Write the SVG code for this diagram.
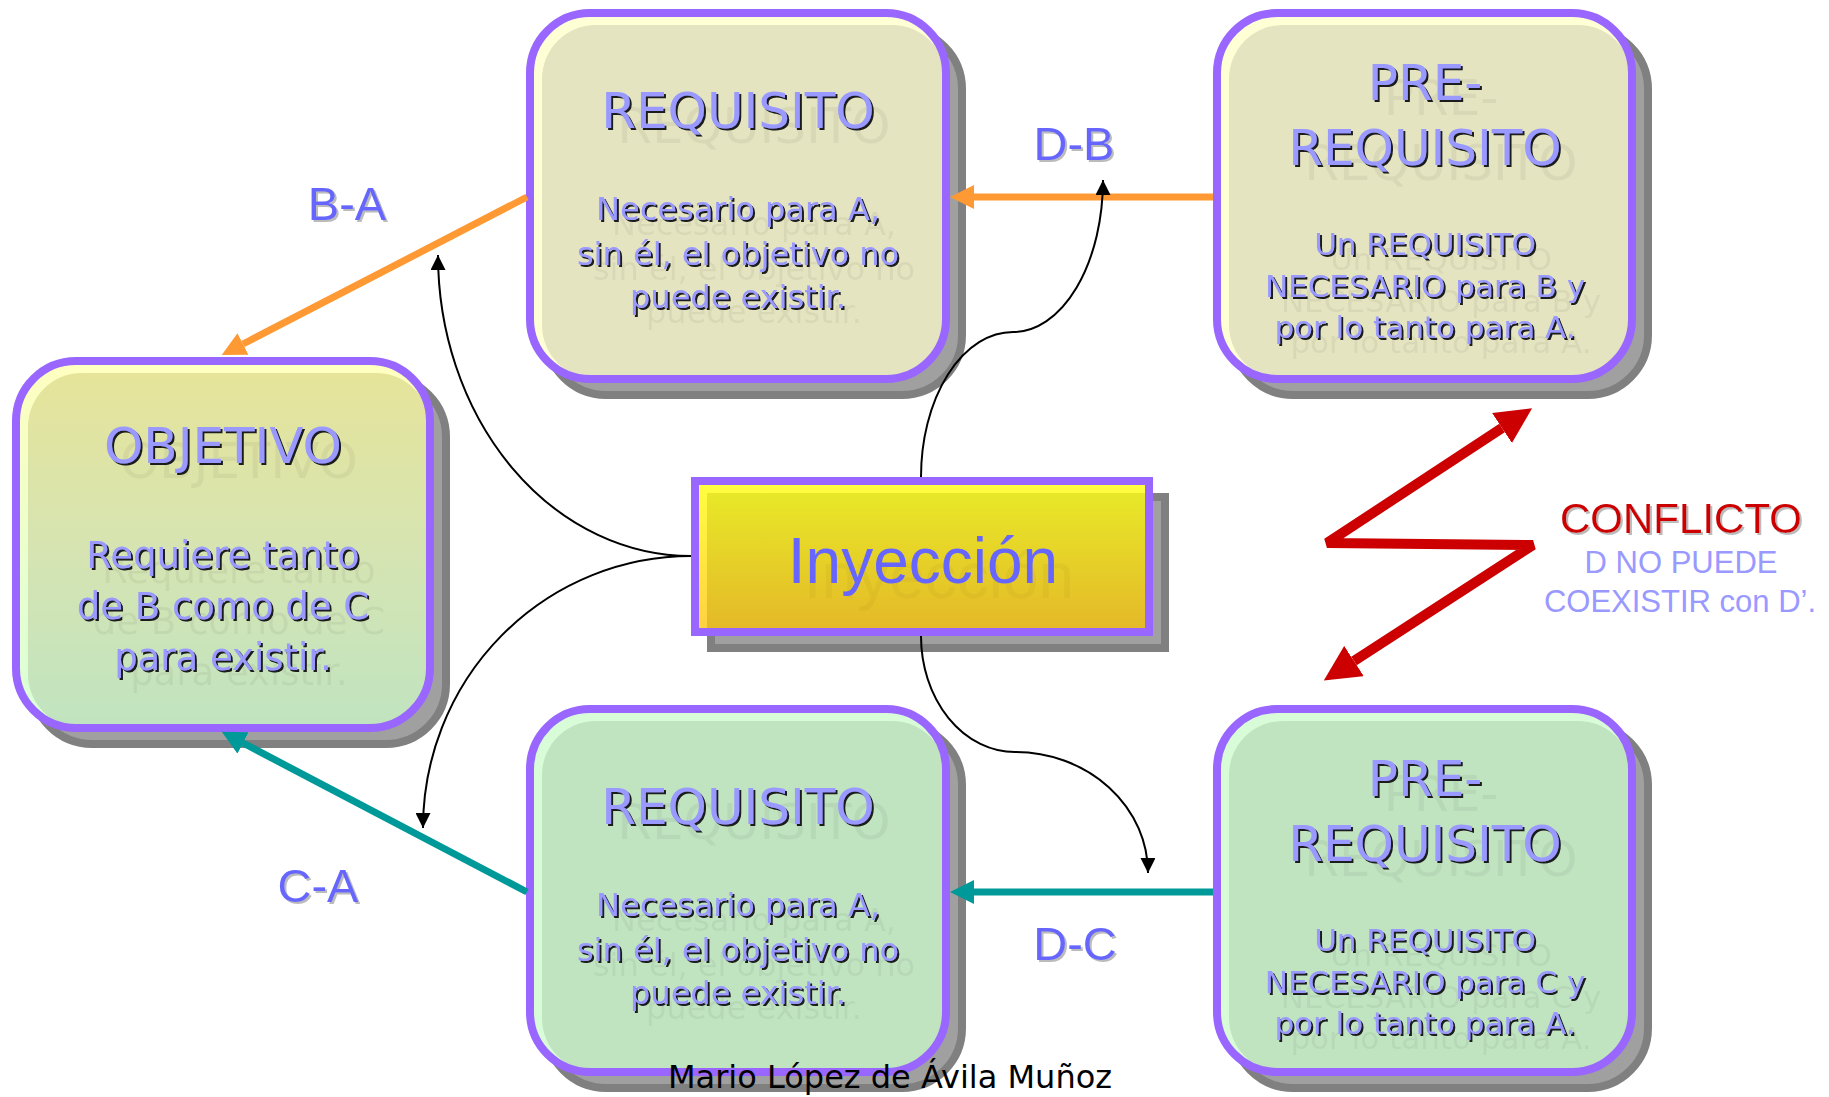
<svg xmlns="http://www.w3.org/2000/svg" width="1829" height="1097" viewBox="0 0 1829 1097">
<defs>
  <style>
    .shadow{fill:#a0a0a0;stroke:#808080;stroke-width:8}
    .border{fill:none;stroke:#9966ff;stroke-width:8}
    .title{font-family:"DejaVu Sans",sans-serif;font-size:50px;fill:#9999ff;text-anchor:middle}
    .body{font-family:"DejaVu Sans",sans-serif;fill:#9999ff;text-anchor:middle}
    .lbl{font-family:"Liberation Sans",Arial,sans-serif;font-size:47px;fill:#6666ff;text-anchor:middle}
    .curve{fill:none;stroke:#000;stroke-width:2;marker-end:url(#ak)}
  </style>
  <linearGradient id="gObj" x1="0" y1="0" x2="0" y2="1">
    <stop offset="0" stop-color="#e6e49a"/>
    <stop offset="0.5" stop-color="#d6e4b2"/>
    <stop offset="1" stop-color="#c0e4c0"/>
  </linearGradient>
  <linearGradient id="gObjHi" x1="0" y1="0" x2="0" y2="1">
    <stop offset="0" stop-color="#ffffc0"/>
    <stop offset="1" stop-color="#d8ffd8"/>
  </linearGradient>
  <linearGradient id="gIny" x1="0" y1="0" x2="0" y2="1">
    <stop offset="0" stop-color="#e8e828"/>
    <stop offset="1" stop-color="#e4b828"/>
  </linearGradient>
  <linearGradient id="gInyHi" x1="0" y1="0" x2="0" y2="1">
    <stop offset="0" stop-color="#ffff40"/>
    <stop offset="1" stop-color="#ffd040"/>
  </linearGradient>
  <filter id="fTxt" x="-0.2" y="-0.5" width="1.5" height="2">
    <feOffset in="SourceAlpha" dx="16" dy="15" result="g"/>
    <feFlood flood-color="#000" flood-opacity="0.05"/>
    <feComposite in2="g" operator="in" result="ghost"/>
    <feOffset in="SourceAlpha" dx="1.6" dy="1.6" result="s"/>
    <feFlood flood-color="#1a1a1a"/>
    <feComposite in2="s" operator="in" result="sh"/>
    <feMerge><feMergeNode in="ghost"/><feMergeNode in="sh"/><feMergeNode in="SourceGraphic"/></feMerge>
  </filter>
  <filter id="fGhost" x="-0.2" y="-0.5" width="1.5" height="2">
    <feOffset in="SourceAlpha" dx="16" dy="15" result="g"/>
    <feFlood flood-color="#604000" flood-opacity="0.06"/>
    <feComposite in2="g" operator="in" result="ghost"/>
    <feMerge><feMergeNode in="ghost"/><feMergeNode in="SourceGraphic"/></feMerge>
  </filter>
  <filter id="fLbl" x="-0.2" y="-0.3" width="1.5" height="1.6">
    <feOffset in="SourceAlpha" dx="2" dy="2" result="s"/>
    <feFlood flood-color="#bbbbbb"/>
    <feComposite in2="s" operator="in" result="sh"/>
    <feMerge><feMergeNode in="sh"/><feMergeNode in="SourceGraphic"/></feMerge>
  </filter>
  <marker id="ao" markerUnits="userSpaceOnUse" viewBox="0 0 24 24" markerWidth="24" markerHeight="24" refX="0" refY="12" orient="auto">
    <path d="M0,0 L24,12 L0,24 z" fill="#ff9933"/>
  </marker>
  <marker id="at" markerUnits="userSpaceOnUse" viewBox="0 0 24 24" markerWidth="24" markerHeight="24" refX="0" refY="12" orient="auto">
    <path d="M0,0 L24,12 L0,24 z" fill="#009999"/>
  </marker>
  <marker id="ak" markerUnits="userSpaceOnUse" viewBox="0 0 15 15" markerWidth="15" markerHeight="15" refX="15" refY="7.5" orient="auto">
    <path d="M0,0 L15,7.5 L0,15 z" fill="#000"/>
  </marker>
  <marker id="ar" markerUnits="userSpaceOnUse" viewBox="0 0 36 36" markerWidth="36" markerHeight="36" refX="0" refY="18" orient="auto-start-reverse">
    <path d="M0,0 L36,18 L0,36 z" fill="#cc0000"/>
  </marker>
</defs>

<rect width="1829" height="1097" fill="#ffffff"/>

<g id="node-objetivo">
  <rect class="shadow" x="32" y="377" width="414" height="367" rx="60"/>
  <rect x="16" y="361" width="414" height="367" rx="60" fill="url(#gObjHi)"/>
  <rect x="28" y="373" width="402" height="355" rx="54" fill="url(#gObj)"/>
  <rect class="border" x="16" y="361" width="414" height="367" rx="60"/>
  <text class="title" x="223" y="463" font-size="51" filter="url(#fTxt)">OBJETIVO</text>
  <text class="body" font-size="37" filter="url(#fTxt)"><tspan x="223" y="568">Requiere tanto</tspan><tspan x="223" y="619">de B como de C</tspan><tspan x="223" y="670">para existir.</tspan></text>
</g>

<g id="node-requisito-b">
  <rect class="shadow" x="546" y="29" width="416" height="366" rx="60"/>
  <rect x="530" y="13" width="416" height="366" rx="60" fill="#ffffd6"/>
  <rect x="542" y="25" width="404" height="354" rx="54" fill="#e4e4c0"/>
  <rect class="border" x="530" y="13" width="416" height="366" rx="60"/>
  <text class="title" x="738" y="128" filter="url(#fTxt)">REQUISITO</text>
  <text class="body" font-size="32" filter="url(#fTxt)"><tspan x="738" y="220">Necesario para A,</tspan><tspan x="738" y="265">sin él, el objetivo no</tspan><tspan x="738" y="308">puede existir.</tspan></text>
</g>

<g id="node-prerequisito-b">
  <rect class="shadow" x="1233" y="29" width="415" height="366" rx="60"/>
  <rect x="1217" y="13" width="415" height="366" rx="60" fill="#ffffd6"/>
  <rect x="1229" y="25" width="403" height="354" rx="54" fill="#e4e4c0"/>
  <rect class="border" x="1217" y="13" width="415" height="366" rx="60"/>
  <text class="title" filter="url(#fTxt)"><tspan x="1425" y="100">PRE-</tspan><tspan x="1425" y="165">REQUISITO</tspan></text>
  <text class="body" font-size="31" filter="url(#fTxt)"><tspan x="1425" y="255">Un REQUISITO</tspan><tspan x="1425" y="297">NECESARIO para B y</tspan><tspan x="1425" y="338">por lo tanto para A.</tspan></text>
</g>

<g id="node-requisito-c">
  <rect class="shadow" x="546" y="725" width="416" height="363" rx="60"/>
  <rect x="530" y="709" width="416" height="363" rx="60" fill="#d8fcd8"/>
  <rect x="542" y="721" width="404" height="351" rx="54" fill="#c0e4c0"/>
  <rect class="border" x="530" y="709" width="416" height="363" rx="60"/>
  <text class="title" x="738" y="824" filter="url(#fTxt)">REQUISITO</text>
  <text class="body" font-size="32" filter="url(#fTxt)"><tspan x="738" y="916">Necesario para A,</tspan><tspan x="738" y="961">sin él, el objetivo no</tspan><tspan x="738" y="1004">puede existir.</tspan></text>
</g>

<g id="node-prerequisito-c">
  <rect class="shadow" x="1233" y="725" width="415" height="363" rx="60"/>
  <rect x="1217" y="709" width="415" height="363" rx="60" fill="#d8fcd8"/>
  <rect x="1229" y="721" width="403" height="351" rx="54" fill="#c0e4c0"/>
  <rect class="border" x="1217" y="709" width="415" height="363" rx="60"/>
  <text class="title" filter="url(#fTxt)"><tspan x="1425" y="796">PRE-</tspan><tspan x="1425" y="861">REQUISITO</tspan></text>
  <text class="body" font-size="31" filter="url(#fTxt)"><tspan x="1425" y="951">Un REQUISITO</tspan><tspan x="1425" y="993">NECESARIO para C y</tspan><tspan x="1425" y="1034">por lo tanto para A.</tspan></text>
</g>

<g id="node-inyeccion">
  <rect class="shadow" x="711" y="497" width="454" height="151"/>
  <rect x="695" y="481" width="454" height="151" fill="url(#gInyHi)"/>
  <rect x="707" y="493" width="442" height="139" fill="url(#gIny)"/>
  <rect class="border" x="695" y="481" width="454" height="151"/>
  <text x="923" y="583" font-family="'Liberation Sans',Arial,sans-serif" font-size="64" fill="#6666ff" text-anchor="middle" filter="url(#fGhost)">Inyección</text>
</g>

<text x="890" y="1088" font-family="'DejaVu Sans',sans-serif" font-size="32" fill="#000" text-anchor="middle">Mario López de Ávila Muñoz</text>

<g id="connectors">
  <line x1="527" y1="197" x2="243" y2="344" stroke="#ff9933" stroke-width="7" marker-end="url(#ao)"/>
  <line x1="1213" y1="197" x2="974" y2="197" stroke="#ff9933" stroke-width="7" marker-end="url(#ao)"/>
  <line x1="527" y1="892" x2="243" y2="743" stroke="#009999" stroke-width="7" marker-end="url(#at)"/>
  <line x1="1213" y1="892" x2="974" y2="892" stroke="#009999" stroke-width="7" marker-end="url(#at)"/>
  <path class="curve" d="M921,477 A92,145 0 0 1 1013,332 A90,152 0 0 0 1103,180"/>
  <path class="curve" d="M691,556 A253,301 0 0 1 438,255"/>
  <path class="curve" d="M691,556 A268,272 0 0 0 423,828"/>
  <path class="curve" d="M921,636 A94,116 0 0 0 1015,752 A133,121 0 0 1 1148,873"/>
  <polyline points="1502,428 1327,543 1533,545 1354,661" fill="none" stroke="#cc0000" stroke-width="10" stroke-linejoin="bevel" marker-start="url(#ar)" marker-end="url(#ar)"/>
  <text class="lbl" x="347" y="220" filter="url(#fLbl)">B-A</text>
  <text class="lbl" x="1074" y="160" filter="url(#fLbl)">D-B</text>
  <text class="lbl" x="318" y="902" filter="url(#fLbl)">C-A</text>
  <text class="lbl" x="1075" y="960" filter="url(#fLbl)">D-C</text>
</g>

<g id="conflict-label">
  <text x="1681" y="533" font-family="'Liberation Sans',Arial,sans-serif" font-size="42" fill="#cc0000" text-anchor="middle" filter="url(#fLbl)">CONFLICTO</text>
  <text font-family="'Liberation Sans',Arial,sans-serif" font-size="31" fill="#9999ff" text-anchor="middle"><tspan x="1681" y="573">D NO PUEDE</tspan><tspan x="1680" y="612">COEXISTIR con D’.</tspan></text>
</g>
</svg>
